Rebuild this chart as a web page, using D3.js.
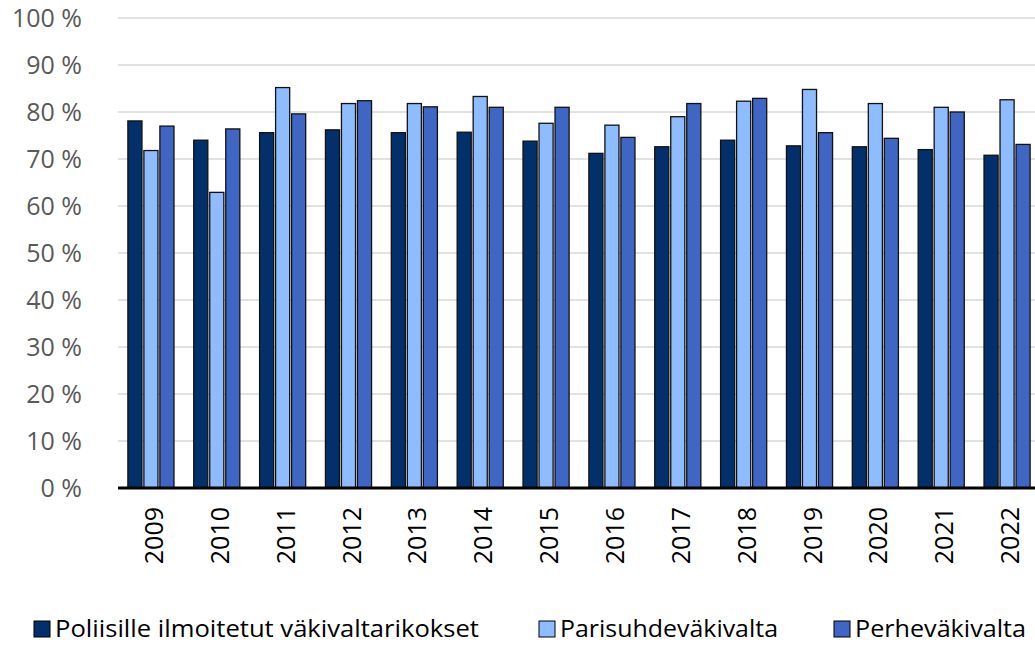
<!DOCTYPE html>
<html>
<head>
<meta charset="utf-8">
<script src="https://cdn.jsdelivr.net/npm/d3@7"></script>
<style>
  body { margin: 0; background: #fff; }
  svg { display: block; font-family: "Open Sans", "Noto Sans", sans-serif; }
</style>
</head>
<body>
<div id="chart-area"></div>
<script>
// Väkivaltatilastot 2009-2022
var years = ["2009","2010","2011","2012","2013","2014","2015","2016","2017","2018","2019","2020","2021","2022"];
var seriesNames = ["Poliisille ilmoitetut väkivaltarikokset", "Parisuhdeväkivalta", "Perheväkivalta"];
var poliisi = [78.1, 74.0, 75.6, 76.2, 75.6, 75.7, 73.8, 71.2, 72.6, 74.0, 72.8, 72.6, 72.0, 70.8];
var parisuhde = [71.8, 62.9, 85.2, 81.8, 81.8, 83.3, 77.6, 77.2, 79.0, 82.3, 84.8, 81.8, 81.0, 82.6];
var perhe = [77.0, 76.4, 79.6, 82.4, 81.1, 81.0, 81.0, 74.6, 81.8, 82.9, 75.6, 74.4, 80.0, 73.1];
var yTicks = [0, 10, 20, 30, 40, 50, 60, 70, 80, 90, 100];
var colors = ["#03306b", "#8fbcff", "#4066c4"];

var W = 1035, H = 645;
var margin = { left: 118, right: -5, top: 18, bottom: 157 };
var width = W - margin.left - margin.right,
    height = H - margin.top - margin.bottom;

var svg = d3.select("#chart-area").append("svg")
    .attr("width", W)
    .attr("height", H);

var g = svg.append("g").attr("transform", "translate(" + margin.left + ", " + margin.top + ")");

var x = d3.scaleBand().domain(years).range([0, width]).paddingInner(0.3).paddingOuter(0.15);
var xs = d3.scaleBand().domain([0, 1, 2]).range([0, x.bandwidth()]).paddingInner(0.12);
var y = d3.scaleLinear().domain([0, 100]).range([height, 0]);

// gridlines
g.selectAll("line.grid")
    .data(yTicks.filter(function(d) { return d > 0; }))
    .enter().append("line")
    .attr("class", "grid")
    .attr("x1", 0).attr("x2", W - margin.left)
    .attr("y1", function(d) { return y(d); })
    .attr("y2", function(d) { return y(d); })
    .attr("stroke", "#d9d9d9")
    .attr("stroke-width", 1.5);

// y labels
var leftAxis = d3.axisLeft(y).tickValues(yTicks).tickSize(0).tickPadding(36)
    .tickFormat(function(d) { return d + " %"; });
var yAxisGroup = g.append("g").attr("class", "y axis").call(leftAxis);
yAxisGroup.select(".domain").remove();
yAxisGroup.selectAll("text")
    .attr("font-size", "25px")
    .attr("fill", "#595959")
    .attr("font-family", "'Open Sans', sans-serif");

// bars
var data = [];
years.forEach(function(yr, i) {
    data.push({ year: yr, s: 0, v: poliisi[i] });
    data.push({ year: yr, s: 1, v: parisuhde[i] });
    data.push({ year: yr, s: 2, v: perhe[i] });
});

g.selectAll("rect.bar")
    .data(data)
    .enter().append("rect")
    .attr("class", "bar")
    .attr("x", function(d) { return x(d.year) + xs(d.s); })
    .attr("width", xs.bandwidth())
    .attr("y", function(d) { return y(d.v); })
    .attr("height", function(d) { return height - y(d.v); })
    .attr("fill", function(d) { return colors[d.s]; })
    .attr("stroke", "#111")
    .attr("stroke-width", 1.3);

// x axis
g.append("line")
    .attr("x1", 0).attr("x2", W - margin.left)
    .attr("y1", height).attr("y2", height)
    .attr("stroke", "#000")
    .attr("stroke-width", 3);

g.selectAll("text.xlab")
    .data(years)
    .enter().append("text")
    .attr("class", "xlab")
    .attr("transform", function(d) {
        return "translate(" + (x(d) + x.bandwidth() / 2 + 2) + "," + (height + 19) + ") rotate(-90)";
    })
    .attr("text-anchor", "end")
    .attr("dominant-baseline", "central")
    .attr("font-size", "25px")
    .attr("fill", "#000")
    .text(function(d) { return d; });

// legend
var legendX = [34, 539, 834];
var legendLen = [424, 218, 171];
var legend = svg.append("g").attr("class", "legend");
seriesNames.forEach(function(name, i) {
    legend.append("rect")
        .attr("x", legendX[i]).attr("y", 621)
        .attr("width", 16).attr("height", 16)
        .attr("fill", colors[i])
        .attr("stroke", "#000")
        .attr("stroke-width", 1);
    legend.append("text")
        .attr("x", legendX[i] + 21)
        .attr("y", 637)
        .attr("font-size", "24px")
        .attr("fill", "#000")
        .attr("textLength", legendLen[i])
        .attr("lengthAdjust", "spacingAndGlyphs")
        .text(name);
});
</script>
</body>
</html>
